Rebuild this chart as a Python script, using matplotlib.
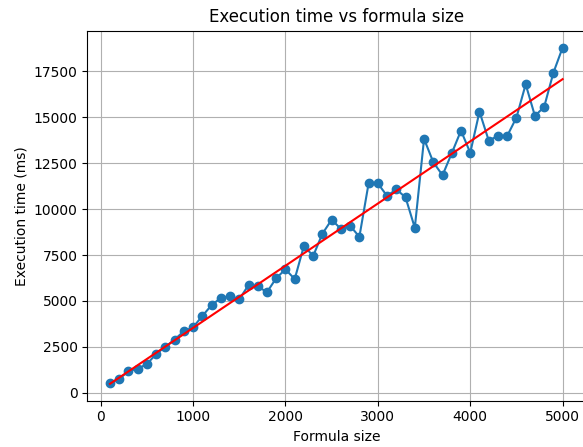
import numpy as np
import matplotlib
matplotlib.use("Agg")
import matplotlib.pyplot as plt

# formula sizes and measured execution times (ms)
tamanhos = list(range(100, 5001, 100))
tempos = [520, 760, 1170, 1320, 1555, 2120, 2500, 2900, 3350, 3565,
          4180, 4770, 5160, 5270, 5090, 5860, 5790, 5480, 6240, 6720,
          6190, 8000, 7450, 8660, 9420, 8920, 9090, 8490, 11400, 11400,
          10710, 11080, 10630, 8980, 13820, 12550, 11840, 13040, 14270, 13060,
          15300, 13730, 13980, 13980, 14980, 16790, 15070, 15560, 17420, 18790]

x = np.array(tamanhos)
y = np.array(tempos)

# ajuste linear
a, b = np.polyfit(x, y, 1)

fig = plt.figure(figsize=(5.83, 4.47), dpi=100)
ax = fig.add_axes([0.1497, 0.1036, 0.8542, 0.8277])
ax.plot(x, y, "o-", color="C0")
ax.plot(x, a * x + b, color="red")
ax.set_title("Execution time vs formula size")
ax.set_xlabel("Formula size")
ax.set_ylabel("Execution time (ms)")
ax.grid(True)

fig.savefig("out.png", dpi=100)
print(a, b)
